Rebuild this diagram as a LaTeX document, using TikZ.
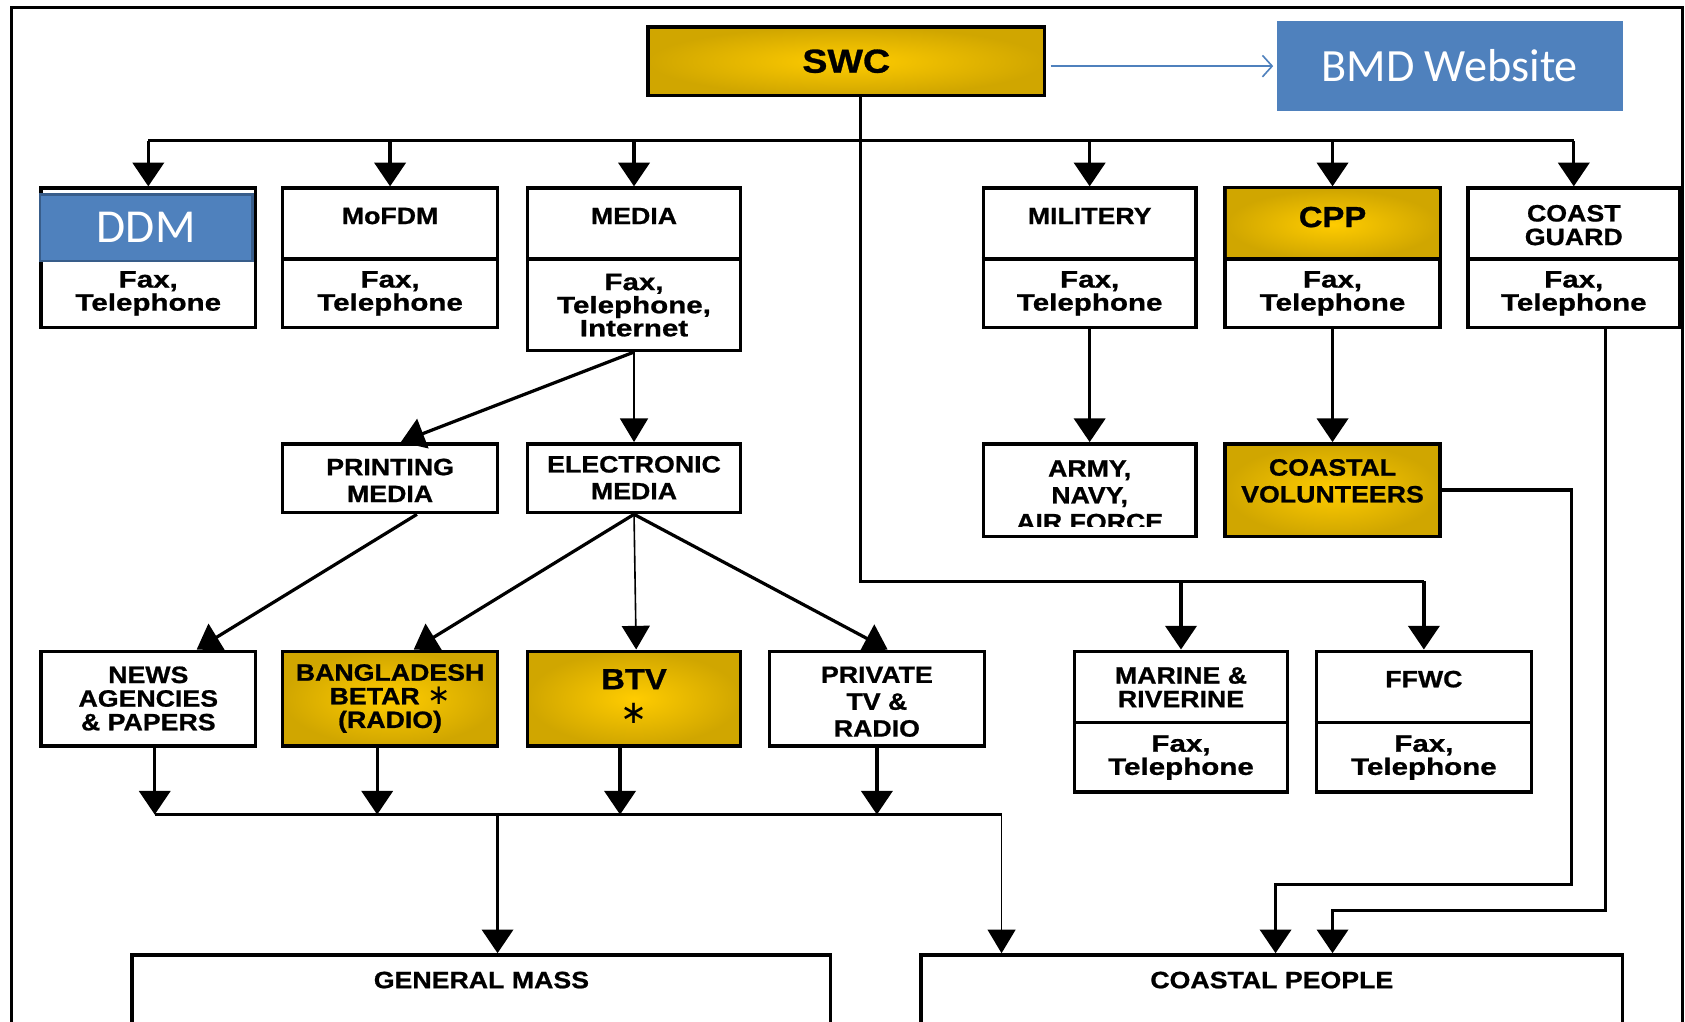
\documentclass[tikz,border=0pt]{standalone}
\usepackage{fontspec}
\setmainfont{Liberation Sans}
\newfontfamily\boxfont[FakeStretch=1.13,FakeBold=0.9]{Liberation Sans}
\newfontfamily\telfont[FakeStretch=1.25,FakeBold=0.9]{Liberation Sans}
\newfontfamily\calfont{Carlito}
\newfontfamily\djv{DejaVu Sans}
\usetikzlibrary{arrows.meta,calc}
\definecolor{goldin}{RGB}{255,204,0}
\definecolor{goldout}{RGB}{208,166,0}
\definecolor{bmdblue}{RGB}{79,129,189}
\definecolor{bmdedge}{RGB}{56,93,138}
\tikzset{
  box/.style={draw, line width=3.2pt, fill=white, inner sep=0pt},
  goldbox/.style={box, inner color=goldin, outer color=goldout},
  lab/.style={inner sep=0pt, align=center, font=\boxfont\bfseries\fontsize{22}{22}\selectfont},
  tel/.style={inner sep=0pt, align=center, font=\telfont\bfseries\fontsize{22}{21.5}\selectfont},
  labwide/.style={inner sep=0pt, align=center, font=\boxfont\bfseries\fontsize{22}{25}\selectfont},
  wire/.style={line width=3pt},
  thinwire/.style={line width=1.5pt},
  arr/.style={wire, -{Triangle[length=22pt,width=29pt]}},
  thinarr/.style={thinwire, -{Triangle[length=22pt,width=26pt]}},
}
\begin{document}
\begin{tikzpicture}[x=1pt,y=-1pt]
\clip (0,0) rectangle (1568,951);
\fill[white] (0,0) rectangle (1568,951);
% frame
\draw[line width=3pt] (11,980) -- (11,7) -- (1566,7) -- (1566,980);

% SWC and BMD
\node[goldbox, minimum width=369pt, minimum height=64pt,
      font=\boxfont\bfseries\fontsize{31}{31}\selectfont] (swc) at (787.5,57) {SWC};
\node[fill=bmdblue, minimum width=322pt, minimum height=83pt, inner sep=0pt,
      text=white, font=\calfont\fontsize{43}{43}\selectfont] (bmd) at (1349,61.5) {BMD Website};
\draw[bmdblue, line width=1.5pt, shorten <=4pt, shorten >=3pt,
      -{Straight Barb[length=9pt,width=20pt]}] (swc.east |- bmd.west) -- (bmd.west);

% top row boxes
\node[box, minimum width=200pt, minimum height=130pt] (ddm) at (138,240) {};
\node[box, minimum width=200pt, minimum height=130pt] (mofdm) at (363,240) {};
\node[box, minimum width=198pt, minimum height=151pt] (media) at (590,250.5) {};
\node[box, minimum width=198pt, minimum height=130pt] (mil) at (1014,240) {};
\node[box, minimum width=200pt, minimum height=130pt] (cpp) at (1240,240) {};
\node[box, minimum width=197pt, minimum height=130pt] (cg) at (1464.5,240) {};
\shade[inner color=goldin, outer color=goldout] (1141.6,176.6) rectangle (1338.4,241);
\coordinate (d1) at (0,241);
\foreach \b in {ddm,mofdm,media,mil,cpp,cg}
  \draw[wire] (\b.west |- d1) -- (\b.east |- d1);

\node[fill=bmdblue, draw=bmdedge, line width=2pt, minimum width=198pt, minimum height=62pt,
      inner sep=0pt, text=white, font=\calfont\fontsize{44}{44}\selectfont] (ddmlabel) at (136,212) {DDM};
\node[tel] (ddmt) at (138,273) {Fax,\\Telephone};
\node[lab] (mofdmh) at (363,201) {MoFDM};
\node[tel] (mofdmt) at (363,273) {Fax,\\Telephone};
\node[lab] (mediah) at (590,201) {MEDIA};
\node[tel] (mediat) at (590,284) {Fax,\\Telephone,\\Internet};
\node[lab] (milh) at (1014,201) {MILITERY};
\node[tel] (milt) at (1014,273) {Fax,\\Telephone};
\node[lab, font=\boxfont\bfseries\fontsize{27}{27}\selectfont] (cpph) at (1240,202) {CPP};
\node[tel] (cppt) at (1240,273) {Fax,\\Telephone};
\node[lab] (cgh) at (1464.5,209.5) {COAST\\GUARD};
\node[tel] (cgt) at (1464.5,273) {Fax,\\Telephone};

% middle row
\node[box, minimum width=200pt, minimum height=64pt] (printing) at (363,445) {};
\node[box, minimum width=198pt, minimum height=64pt] (elec) at (590,445) {};
\node[box, minimum width=198pt, minimum height=86pt] (army) at (1014,456) {};
\node[goldbox, minimum width=200pt, minimum height=86pt] (vol) at (1240,456) {};
\node[labwide] (printingt) at (363,447) {PRINTING\\MEDIA};
\node[labwide] (elect) at (590,444.5) {ELECTRONIC\\MEDIA};
\begin{scope}
  \clip (917,415) rectangle (1111,490);
  \node[labwide] (armyt) at (1014,461) {ARMY,\\NAVY,\\AIR FORCE};
\end{scope}
\node[labwide] (volt) at (1240,447.5) {COASTAL\\VOLUNTEERS};

% bottom row
\node[box, minimum width=200pt, minimum height=88pt] (news) at (138,650) {};
\node[goldbox, minimum width=200pt, minimum height=88pt] (betar) at (363,650) {};
\node[goldbox, minimum width=198pt, minimum height=88pt] (btv) at (590,650) {};
\node[box, minimum width=200pt, minimum height=88pt] (private) at (816,650) {};
\node[box, minimum width=198pt, minimum height=131pt] (marine) at (1099,671.5) {};
\node[box, minimum width=200pt, minimum height=131pt] (ffwc) at (1325,671.5) {};
\coordinate (d2) at (0,672);
\foreach \b in {marine,ffwc}
  \draw[wire] (\b.west |- d2) -- (\b.east |- d2);
\node[lab] (newst) at (138,650) {NEWS\\AGENCIES\\\& PAPERS};
\node[lab] (betart) at (363,650) {BANGLADESH\\BETAR {\djv\mdseries\fontsize{26}{22}\selectfont ∗}\\(RADIO)};
\node[lab, font=\boxfont\bfseries\fontsize{27}{27}\selectfont] (btvh) at (590,632) {BTV};
\node[lab, font=\djv\fontsize{30}{30}\selectfont] (btvs) at (590,664) {∗};
\begin{scope}
  \clip (718,608) rectangle (914,688);
  \node[labwide] (privatet) at (816,653) {PRIVATE\\TV \&\\RADIO};
\end{scope}
\node[lab] (marineh) at (1099,639.5) {MARINE \&\\RIVERINE};
\node[tel] (marinet) at (1099,705) {Fax,\\Telephone};
\node[lab] (ffwch) at (1325,632) {FFWC};
\node[tel] (ffwct) at (1325,705) {Fax,\\Telephone};

% final boxes
\node[box, minimum width=650pt, minimum height=130pt, anchor=north] (general) at (448,887) {};
\node[box, minimum width=653pt, minimum height=130pt, anchor=north] (coastal) at (1183.5,887) {};
\node[lab] (generalt) at (448,912) {GENERAL MASS};
\node[lab] (coastalt) at (1183.5,912) {COASTAL PEOPLE};

% top bus
\coordinate (tbus) at (0,131);
\draw[wire] (ddm.north |- tbus) -- (cg.north |- tbus);
\foreach \b in {ddm,mofdm,media,mil,cpp,cg}
  \draw[arr] (\b.north |- tbus) -- (\b.north);

% trunk from SWC
\coordinate (tr0) at ($(swc.south)+(13.5,0)$);
\coordinate (tr1) at (801,541);
\draw[line width=2.8pt] (tr0) -- (tr1) -- (tr1 -| ffwc.north);
\draw[arr] (tr1 -| marine.north) -- (marine.north);
\draw[arr] (tr1 -| ffwc.north) -- (ffwc.north);

% media branches
\draw[arr] (media.south) -- ($(printing.north)+(10,0)$);
\draw[thinarr] (media.south) -- (elec.north);
\draw[arr] (mil.south) -- (army.north);
\draw[arr] (cpp.south) -- (vol.north);
\draw[arr] ($(printing.south)+(25,0)$) -- ($(news.north)+(45,0)$);
\draw[arr] (elec.south) -- ($(betar.north)+(22,0)$);
\draw[thinarr] (elec.south) -- ($(btv.north)+(2,0)$);
\draw[arr] (elec.south) -- ($(private.north)+(10,0)$);

% bottom bus
\coordinate (bbus) at (0,758);
\coordinate (n1) at ($(news.south)+(6,0)$);
\coordinate (n2) at ($(betar.south)+(-12,0)$);
\coordinate (n3) at ($(btv.south)+(-13,0)$);
\coordinate (n4) at (private.south);
\coordinate (busend) at (932,758);
\coordinate (gmdrop) at (463,758);
\foreach \n in {n1,n2,n3,n4}
  \draw[arr] (\n) -- (\n |- bbus);
\draw[wire] (n1 |- bbus) -- (busend);
\draw[arr] (gmdrop) -- (gmdrop |- general.north);
\draw[thinarr] (busend) -- (busend |- coastal.north);

% right side routes
\coordinate (r1) at (1462,823);
\coordinate (cpa) at (1187,823);
\draw[arr] (vol.east) -| (r1) -- (cpa) -- (cpa |- coastal.north);
\coordinate (cgx) at ($(cg.south)+(29.5,0)$);
\coordinate (r2) at (1494,847);
\coordinate (cpb) at (1240,847);
\draw[arr] (cgx) -- (r2) -- (cpb) -- (cpb |- coastal.north);
\end{tikzpicture}
\end{document}
